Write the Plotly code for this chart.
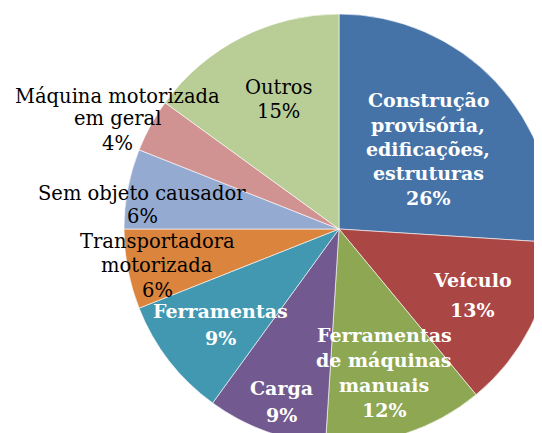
import plotly.graph_objects as go

# dados do gráfico (sentido horário a partir das 12 horas)
categorias = [
    "Construção\nprovisória,\nedificações,\nestruturas",
    "Veículo",
    "Ferramentas\nde máquinas\nmanuais",
    "Carga",
    "Ferramentas",
    "Transportadora\nmotorizada",
    "Sem objeto causador",
    "Máquina motorizada\nem geral",
    "Outros",
]
percentuais = [26, 13, 12, 9, 9, 6, 6, 4, 15]
cores = ["#4573A7", "#AA4644", "#8DA753", "#72598F", "#4298B0",
         "#DA843D", "#94AAD0", "#D19392", "#B9CD97"]

# a página tem margem de 8px; a figura é maior e fica cortada à direita/embaixo
OFF = 8
CX, CY, R = 339 - OFF, 229 - OFF, 215
W, H = CX + R, CY + R

# posição dos rótulos em pixels da tela: (centro x, linhas de base), cor, negrito
rotulos = [
    (428, [106.7, 131.7, 156, 180, 205], "white", True),
    (472, [287, 317], "white", True),
    (384, [342, 367, 392, 417], "white", True),
    (281, [395, 422], "white", True),
    (220, [318, 345], "white", True),
    (157, [248, 272, 297], "black", False),
    (142, [200, 223], "black", False),
    (117, [103, 125, 150], "black", False),
    (278, [94, 118], "black", False),
]

fig = go.Figure(go.Pie(
    labels=[c.replace("\n", " ") for c in categorias],
    values=percentuais,
    sort=False,
    direction="clockwise",
    rotation=0,
    textinfo="none",
    hoverinfo="label+percent",
    marker=dict(colors=cores, line=dict(color="rgba(255,255,255,0.6)", width=1)),
    domain=dict(x=[(CX - R) / W, 1], y=[0, 1 - (CY - R) / H]),
    showlegend=False,
))

FONTE = "DejaVu Serif"
for cat, val, (x, bases, cor, negrito) in zip(categorias, percentuais, rotulos):
    linhas = cat.split("\n") + [f"{val}%"]
    tam = 19 if negrito else 19.5
    for txt, b in zip(linhas, bases):
        fig.add_annotation(
            x=(x - OFF) / W, y=1 - (b - 0.35 * tam - OFF) / H,
            xref="paper", yref="paper",
            xanchor="center", yanchor="middle", showarrow=False,
            text=f"<b>{txt}</b>" if negrito else txt,
            font=dict(family=FONTE, size=tam, color=cor),
        )

fig.update_layout(
    width=W, height=H,
    margin=dict(l=0, r=0, t=0, b=0),
    paper_bgcolor="white",
    plot_bgcolor="white",
    font=dict(family=FONTE),
)

fig.write_html("out.html")
